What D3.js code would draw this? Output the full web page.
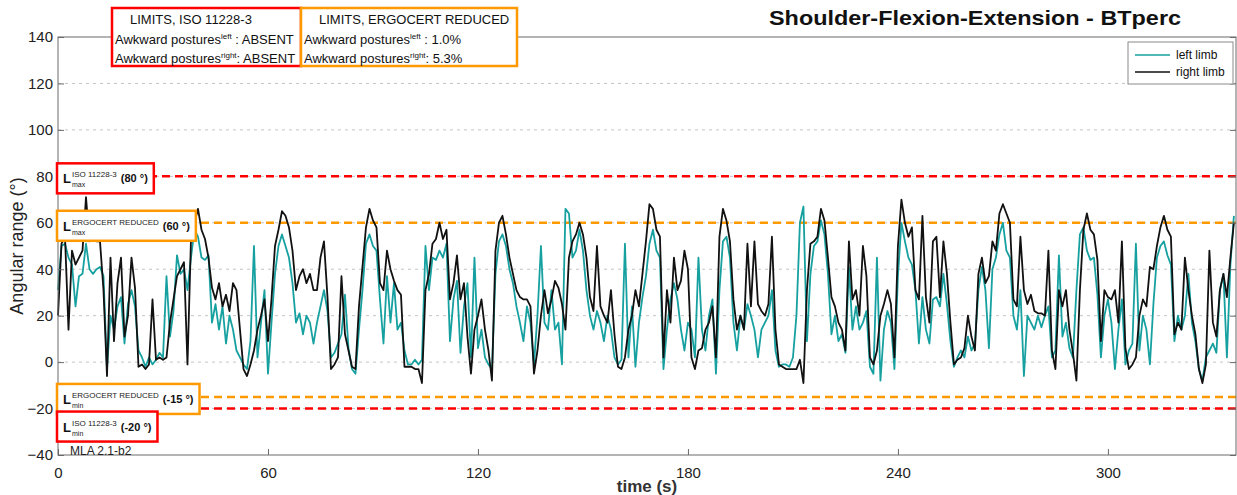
<!DOCTYPE html>
<html>
<head>
<meta charset="utf-8">
<script src="https://cdn.jsdelivr.net/npm/d3@7"></script>
<style>
  html, body { margin: 0; padding: 0; background: #fff; }
  svg { display: block; font-family: "Liberation Sans", Arial, sans-serif; }
</style>
</head>
<body>
<svg id="chart" width="1237" height="495"></svg>
<script>
// time samples (s), one per second
const timeSec = d3.range(0, 337);

// left limb (teal), degrees
const leftLimb = [
  31,50,51,45,42,24,37,38,51,40, 38,40,41,37,-3,20,14,24,28,8, 25,31,24,5,2,-2,2,-1,1,4,
  2,37,11,22,46,38,40,31,45,57, 54,45,44,46,17,25,14,24,8,20, 14,5,2,-1,-3,9,50,2,17,31,
  -5,17,38,50,55,50,45,34,17,21, 12,20,17,8,17,24,31,22,2,4, 8,12,29,6,-3,
  -5,14,31,51,55,50,48,27,8,37, 17,34,14,17,5,-1,-1,1,-1,1, 50,31,45,44,48,45,51,9,27,35,
  4,24,34,2,45,6,14,2,-1,-3, 38,52,55,50,40,34,24,17,9,24, 17,-1,20,50,17,14,31,14,17,-1,
  66,64,45,48,57,48,31,20,14,22, 17,9,20,14,2,-1,1,51,2,24, -2,17,28,37,51,
  57,48,45,-3,14,27,34,27,14,5, 17,14,2,45,14,5,20,27,-5,31, 52,54,45,17,5,20,14,25,20,14,
  2,14,17,20,31,5,-2,-1,-1,-2, 2,20,60,67,9,38,50,52,61,55, 38,12,20,9,12,4,41,14,24,14,
  17,22,-2,-5,45,-8,14,22,17,-3, 37,60,52,45,42,31,8,28,14,8, 27,28,24,38,
  25,9,-2,2,5,2,11,5,8,31, 41,31,6,40,45,55,60,48,45,20, 14,31,-6,20,17,14,20,15,20,24,
  2,5,46,11,17,6,2,31,55,58, 48,44,45,29,2,20,27,17,-3,14, 27,-1,5,8,51,5,20,14,-1,25,
  45,50,52,46,42,9,20,14,20,38, 17,9,-3,-8,2,5,8,4,31,38, 2,42,63
];

// right limb (black), degrees
const rightLimb = [
  20,51,54,14,48,42,45,48,71,52, 53,52,52,31,-6,45,9,34,45,11, 20,45,32,-2,-1,-3,-1,27,1,2,
  1,2,17,27,37,40,43,-1,53,60, 66,57,53,45,32,27,34,24,29,22, 34,31,14,-3,-6,-1,5,14,20,27,
  9,27,50,57,65,63,58,48,31,37, 40,34,38,31,31,45,52,28,-3,-1, 2,37,12,5,-2,
  -3,24,41,58,66,61,58,34,31,48, 40,35,31,29,-2,-2,-2,-3,-3,-9, 31,38,51,53,60,53,57,27,34,46,
  27,34,11,-5,14,20,27,14,5,-8, 48,60,63,55,45,38,31,28,27,27, 24,-5,5,20,31,21,27,35,32,25,
  14,45,52,55,60,55,45,28,22,50, 24,20,17,31,12,-2,-3,2,14,20, 31,24,38,52,68,
  66,57,54,2,31,17,45,31,35,48, 40,2,-3,5,6,14,17,24,2,54, 66,61,52,27,14,20,14,51,24,52,
  25,22,20,25,54,14,-1,-2,-3,-3, -3,-3,1,-9,31,51,52,54,66,61, 45,28,24,17,14,5,52,27,31,20,
  50,37,2,-1,5,20,25,31,25,2, 50,70,60,54,58,31,27,63,28,17, 52,54,28,52,
  38,17,-1,1,2,6,20,11,5,38, 45,34,37,52,48,64,68,64,60,27, 24,54,31,25,29,22,21,21,20,48,
  5,-3,31,24,31,14,4,-8,31,57, 64,57,55,44,9,31,28,27,31,17, 52,6,-3,-1,2,20,27,24,41,40,
  50,58,63,57,54,12,17,14,45,31, 20,12,-3,-9,-1,48,17,11,31,38, 28,45,60
];

const xTicks = [0, 60, 120, 180, 240, 300];
const yTicks = [-40, -20, 0, 20, 40, 60, 80, 100, 120, 140];

// limit lines
const limits = [
  { value: 80, color: "#ff0000", sup: "ISO 11228-3", sub: "max", label: "(80 °)", off: 2 },
  { value: 60, color: "#ff9900", sup: "ERGOCERT REDUCED", sub: "max", label: "(60 °)", off: 3 },
  { value: -15, color: "#ff9900", sup: "ERGOCERT REDUCED", sub: "min", label: "(-15 °)", off: 2 },
  { value: -20, color: "#ff0000", sup: "ISO 11228-3", sub: "min", label: "(-20 °)", off: 18 }
];

const infoBoxes = [
  { color: "#ff0000", title: "LIMITS, ISO 11228-3", left: "ABSENT", right: "ABSENT" },
  { color: "#ff9900", title: "LIMITS, ERGOCERT REDUCED", left: "1.0%", right: "5.3%" }
];

const series = [
  { name: "left limb", values: leftLimb, color: "#17a0a0" },
  { name: "right limb", values: rightLimb, color: "#111111" }
];

const svg = d3.select("#chart");
const W = 1237, H = 495;
const m = { left: 58, right: 1, top: 37, bottom: 40 };

svg.append("rect").attr("width", W).attr("height", H).attr("fill", "#fff");

const x = d3.scaleLinear().domain([0, 336.6]).range([m.left, W - m.right]);
const y = d3.scaleLinear().domain([-40, 140]).range([H - m.bottom, m.top]);

// horizontal grid
svg.append("g")
  .selectAll("line")
  .data(yTicks.filter(v => v > -40 && v < 140))
  .join("line")
  .attr("x1", x.range()[0]).attr("x2", x.range()[1])
  .attr("y1", d => y(d)).attr("y2", d => y(d))
  .attr("stroke", "#c4c4c4")
  .attr("stroke-dasharray", "3,4");

// limit lines
svg.append("g")
  .selectAll("line")
  .data(limits)
  .join("line")
  .attr("x1", x.range()[0]).attr("x2", x.range()[1])
  .attr("y1", d => y(d.value)).attr("y2", d => y(d.value))
  .attr("stroke", d => d.color)
  .attr("stroke-width", 2.5)
  .attr("stroke-dasharray", "8,5");

// series
const line = d3.line().x((d, i) => x(timeSec[i])).y(d => y(d));
svg.append("g")
  .selectAll("path")
  .data(series)
  .join("path")
  .attr("d", d => line(d.values))
  .attr("fill", "none")
  .attr("stroke", d => d.color)
  .attr("stroke-width", 1.8)
  .attr("stroke-linejoin", "round");

// axes frame
svg.append("rect")
  .attr("x", x.range()[0]).attr("y", y.range()[1])
  .attr("width", x.range()[1] - x.range()[0])
  .attr("height", y.range()[0] - y.range()[1])
  .attr("fill", "none").attr("stroke", "#6a6a6a");

const xAxis = svg.append("g")
  .attr("transform", `translate(0,${y.range()[0]})`)
  .call(d3.axisBottom(x).tickValues(xTicks).tickSizeInner(-6).tickSizeOuter(0).tickPadding(12));
const yAxis = svg.append("g")
  .attr("transform", `translate(${x.range()[0]},0)`)
  .call(d3.axisLeft(y).tickValues(yTicks).tickSizeInner(-6).tickSizeOuter(0).tickPadding(5));
svg.append("g")
  .attr("transform", `translate(${x.range()[1]},0)`)
  .call(d3.axisRight(y).tickValues(yTicks).tickSizeInner(-6).tickSizeOuter(0).tickFormat(""));

[xAxis, yAxis].forEach(a => {
  a.selectAll("text").attr("font-size", 15).attr("fill", "#222").attr("font-family", "Liberation Sans, Arial, sans-serif");
});
svg.selectAll(".tick line").attr("stroke", "#6a6a6a");
svg.selectAll(".domain").remove();

// axis titles
svg.append("text")
  .attr("x", (x.range()[0] + x.range()[1]) / 2).attr("y", 492)
  .attr("text-anchor", "middle").attr("font-size", 17).attr("font-weight", "bold").attr("fill", "#333")
  .text("time (s)");
svg.append("text")
  .attr("transform", `translate(23,${(y.range()[0] + y.range()[1]) / 2}) rotate(-90)`)
  .attr("text-anchor", "middle").attr("font-size", 18).attr("fill", "#222")
  .text("Angular range (°)");

// title
svg.append("text")
  .attr("x", 975).attr("y", 25)
  .attr("text-anchor", "middle").attr("font-size", 20).attr("font-weight", "bold").attr("fill", "#111")
  .attr("textLength", 412).attr("lengthAdjust", "spacingAndGlyphs")
  .text("Shoulder-Flexion-Extension - BTperc");

// limit labels
limits.forEach(d => {
  const cy = y(d.value) + d.off;
  const x0 = x.range()[0] - 1;
  const g = svg.append("g");
  const box = g.append("rect");
  const tx = x0 + 6;
  g.append("text").attr("x", tx).attr("y", cy + 5)
    .attr("font-size", 13).attr("font-weight", "bold").attr("fill", "#111").text("L");
  const sup = g.append("text").attr("x", tx + 9).attr("y", cy - 1)
    .attr("font-size", 8).attr("fill", "#222").text(d.sup);
  g.append("text").attr("x", tx + 9).attr("y", cy + 9)
    .attr("font-size", 7).attr("fill", "#222").text(d.sub);
  const supW = sup.node().getComputedTextLength();
  const val = g.append("text").attr("x", tx + 9 + supW + 4).attr("y", cy + 4)
    .attr("font-size", 11).attr("font-weight", "bold").attr("fill", "#111").text(d.label);
  const end = tx + 9 + supW + 4 + val.node().getComputedTextLength() + 6;
  box.attr("x", x0).attr("y", cy - 15).attr("width", end - x0).attr("height", 30)
    .attr("fill", "#fff").attr("stroke", d.color).attr("stroke-width", 2.5);
});

svg.append("text").attr("x", 70).attr("y", 455)
  .attr("font-size", 12).attr("fill", "#222").text("MLA 2.1-b2");

// info boxes
const boxX = [112, 301, 517];
infoBoxes.forEach((d, i) => {
  const g = svg.append("g");
  const bx = boxX[i], bw = boxX[i + 1] - boxX[i];
  g.append("rect").attr("x", bx).attr("y", 8).attr("width", bw).attr("height", 58)
    .attr("fill", "#fff").attr("stroke", d.color).attr("stroke-width", 2.5);
  g.append("text").attr("x", bx + 18).attr("y", 24)
    .attr("font-size", 13).attr("fill", "#111").text(d.title);
  [["left", d.left, 44], ["right", d.right, 63]].forEach(([side, v, yy]) => {
    const t = g.append("text").attr("x", bx + 3).attr("y", yy).attr("font-size", 13).attr("fill", "#111");
    t.append("tspan").text("Awkward postures");
    t.append("tspan").attr("dy", -5).attr("font-size", 8).text(side);
    t.append("tspan").attr("dy", 5).text((side === "left" ? " : " : ": ") + v);
  });
});

// legend
const lg = svg.append("g").attr("transform", "translate(1128,42)");
lg.append("rect").attr("width", 105).attr("height", 42)
  .attr("fill", "#fff").attr("stroke", "#8a8a8a");
series.forEach((s, i) => {
  lg.append("line").attr("x1", 7).attr("x2", 42).attr("y1", 13 + i * 17).attr("y2", 13 + i * 17)
    .attr("stroke", s.color).attr("stroke-width", 1.6);
  lg.append("text").attr("x", 48).attr("y", 17 + i * 17)
    .attr("font-size", 12).attr("fill", "#111").text(s.name);
});
</script>
</body>
</html>
